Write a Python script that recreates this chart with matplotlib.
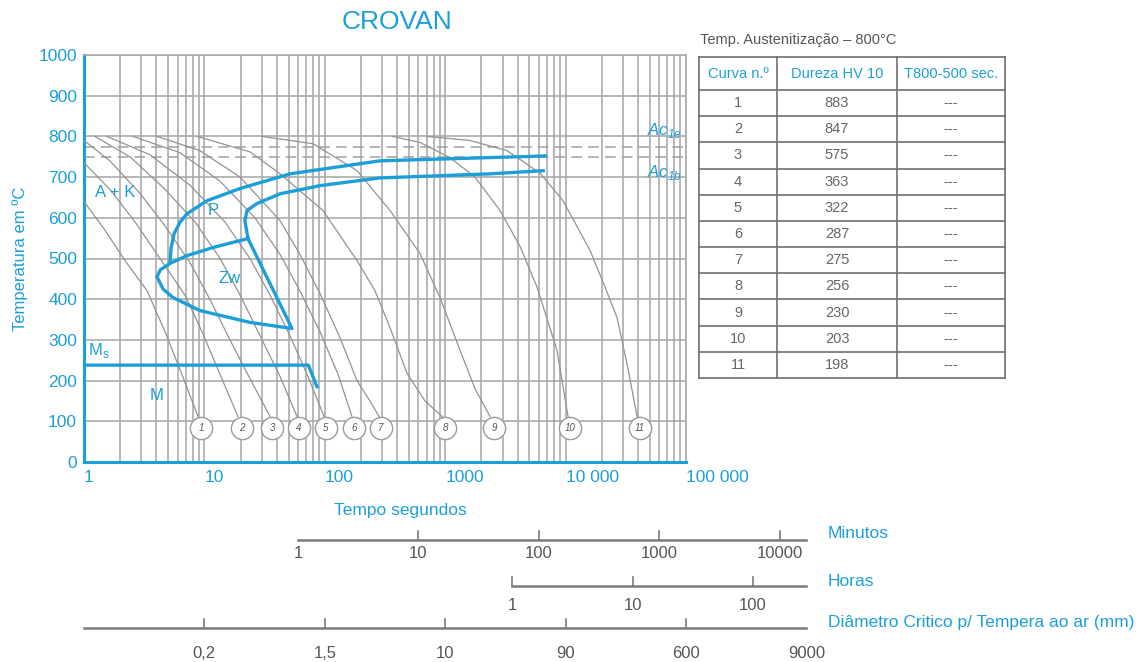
import matplotlib
matplotlib.use("Agg")
import matplotlib.pyplot as plt
import matplotlib.transforms as mtransforms
from matplotlib.ticker import LogLocator, NullFormatter

plt.rcParams['font.family'] = ['Liberation Sans', 'DejaVu Sans']

BLUE = '#1c9fd9'
GRID = '#ababab'
CURVE = '#939393'

# cooling curves: time (s) and temperature (C)
c1_t = [1.0, 1.49, 2.19, 3.34, 4.71, 6.51, 8.85]
c1_T = [640, 570, 495, 421, 320, 215, 112]
c2_t = [1.0, 1.64, 2.65, 4.28, 6.90, 9.73, 13.5, 19.0]
c2_T = [735, 670, 590, 500, 410, 315, 215, 112]
c3_t = [1.0, 1.64, 2.92, 4.71, 7.59, 11.1, 16.3, 23.9, 35.1]
c3_T = [790, 740, 660, 580, 490, 400, 300, 205, 112]
c4_t = [1.23, 2.41, 4.71, 8.35, 13.5, 19.8, 29.0, 42.5, 58.7]
c4_T = [800, 750, 670, 590, 500, 410, 310, 210, 112]
c5_t = [1.55, 3.53, 7.59, 14.8, 23.9, 35.1, 51.4, 72.5, 98.5]
c5_T = [800, 755, 680, 590, 500, 410, 310, 210, 112]
c6_t = [2.55, 6.27, 13.5, 26.3, 42.5, 62.2, 91.2, 129, 168]
c6_T = [800, 760, 690, 600, 510, 420, 320, 215, 112]
c7_t = [4.04, 9.19, 19.8, 42.5, 62.2, 91.2, 134, 185, 237, 282]
c7_T = [800, 765, 700, 593, 510, 414, 305, 200, 150, 112]
c8_t = [8.68, 23.9, 42.5, 96.6, 185, 261, 348, 482, 679, 959]
c8_T = [800, 762, 708, 618, 495, 421, 330, 218, 150, 110]
c9_t = [30.0, 79.8, 185, 348, 618, 905, 1326, 1769, 2355]
c9_T = [800, 782, 716, 618, 512, 404, 275, 180, 112]
c10_t = [368, 618, 1096, 1769, 2851, 4181, 5786, 8472, 10470]
c10_T = [800, 785, 748, 700, 618, 530, 430, 275, 112]
c11_t = [706, 1607, 3261, 6128, 9516, 15950, 21250, 26730, 32960, 39180]
c11_T = [800, 790, 765, 710, 642, 520, 430, 355, 230, 112]

curves_t = [c1_t, c2_t, c3_t, c4_t, c5_t, c6_t, c7_t, c8_t, c9_t, c10_t, c11_t]
curves_T = [c1_T, c2_T, c3_T, c4_T, c5_T, c6_T, c7_T, c8_T, c9_T, c10_T, c11_T]
circle_t = [9.37, 20.5, 36.4, 61.1, 102, 175, 293, 996, 2541, 10880, 41490]
circle_labels = ['1', '2', '3', '4', '5', '6', '7', '8', '9', '10', '11']

# transformation lines (blue)
upper_t = [5.18, 5.28, 5.6, 6.3, 7.17, 10.5, 19.8, 51.4, 287, 2355, 7010]
upper_T = [488, 525, 561, 590, 610, 642, 672, 708, 740, 748, 752]
lower_t = [23.0, 21.7, 22.6, 27.3, 42.5, 91.2, 287, 2355, 6740]
lower_T = [549, 593, 618, 635, 659, 679, 698, 708, 716]
bainite_t = [23.0, 11.8, 7.17, 5.18, 4.3, 4.04, 4.53, 5.49, 9.19, 23.9, 53.4, 23.0]
bainite_T = [549, 527, 507, 488, 472, 455, 425, 404, 372, 343, 328, 549]
ms_t = [1.0, 73.0, 86.1]
ms_T = [238, 238, 185]
ac1e = 775
ac1b = 750

# x tick labels of the seconds axis
sec_ticks = [1, 10, 100, 1000, 10000, 100000]
sec_labels = ['1', '10', '100', '1000', '10 000', '100 000']

# secondary scales under the chart
min_values = [1, 10, 100, 1000, 10000]
hour_values = [1, 10, 100]
diam_pos_s = [10, 100, 1000, 10000, 100000, 1000000]
diam_labels = ['0,2', '1,5', '10', '90', '600', '9000']

# table
curva = ['1', '2', '3', '4', '5', '6', '7', '8', '9', '10', '11']
dureza = [883, 847, 575, 363, 322, 287, 275, 256, 230, 203, 198]
t800_500 = ['---'] * 11


def main():
    W, H = 1138, 662
    fig = plt.figure(figsize=(W / 100, H / 100), dpi=100)

    def fy(py):
        return 1 - py / H

    ax = fig.add_axes([84 / W, fy(462), 602 / W, 407 / H])
    ax.set_xscale('log')

    # grid
    ax.xaxis.set_minor_locator(LogLocator(base=10, subs=range(2, 10)))
    ax.xaxis.set_minor_formatter(NullFormatter())
    ax.grid(True, which='both', axis='x', color=GRID, lw=1.2)
    ax.grid(True, which='major', axis='y', color=GRID, lw=1.2)
    ax.set_axisbelow(True)
    ax.tick_params(which='both', length=0, colors=BLUE, labelsize=12.5)

    # Ac lines
    ax.axhline(ac1e, color='#a0a0a0', lw=1.1, ls=(0, (7, 4)))
    ax.axhline(ac1b, color='#a0a0a0', lw=1.1, ls=(0, (7, 4)))

    # cooling curves
    for t, T in zip(curves_t, curves_T):
        ax.plot(t, T, color=CURVE, lw=0.9, zorder=3)
    for t, lab in zip(circle_t, circle_labels):
        ax.plot([t], [83], marker='o', ms=16, mfc='white', mec='#9a9a9a',
                mew=1.0, zorder=4, clip_on=False)
        ax.text(t, 83, lab, ha='center', va='center', fontsize=7,
                style='italic', color='#555555', zorder=5)

    # transformation zones
    ax.plot(upper_t, upper_T, color=BLUE, lw=2.4, zorder=6, solid_capstyle='butt')
    ax.plot(lower_t, lower_T, color=BLUE, lw=2.4, zorder=6, solid_capstyle='butt')
    ax.plot(bainite_t, bainite_T, color=BLUE, lw=2.4, zorder=6, solid_joinstyle='round')
    ax.plot(ms_t, ms_T, color=BLUE, lw=2.4, zorder=6)

    # zone labels
    ax.text(1.8, 662, 'A + K', color=BLUE, fontsize=12, ha='center', va='center')
    ax.text(11.8, 618, 'P', color=BLUE, fontsize=12, ha='center', va='center')
    ax.text(16.3, 451, 'Zw', color=BLUE, fontsize=12, ha='center', va='center')
    ax.text(1.08, 275, r'M$_\mathregular{s}$', color=BLUE, fontsize=12, ha='left', va='center')
    ax.text(4.04, 164, 'M', color=BLUE, fontsize=12, ha='center', va='center')
    ax.text(47000, 814, r'Ac$_\mathregular{1e}$', color=BLUE, fontsize=12,
            style='italic', ha='left', va='center')
    ax.text(47000, 711, r'Ac$_\mathregular{1b}$', color=BLUE, fontsize=12,
            style='italic', ha='left', va='center')

    # axes
    ax.set_ylim(0, 1000)
    ax.set_yticks(range(0, 1001, 100))
    ax.set_xticks(sec_ticks)
    ax.set_xticklabels(sec_labels)
    shift = mtransforms.ScaledTranslation(-3 / 100, 0, fig.dpi_scale_trans)
    for lbl in ax.get_xticklabels():
        lbl.set_horizontalalignment('left')
        lbl.set_transform(lbl.get_transform() + shift)
    ax.tick_params(axis='x', pad=6)
    ax.tick_params(axis='y', pad=5)
    for side in ['left', 'bottom']:
        ax.spines[side].set_color(BLUE)
        ax.spines[side].set_linewidth(2.2)
    for side in ['top', 'right']:
        ax.spines[side].set_color(GRID)
        ax.spines[side].set_linewidth(1.2)
    ax.set_ylabel('Temperatura em ºC', color=BLUE, fontsize=12)
    ax.yaxis.set_label_coords(-0.093, 0.5)

    fig.text(397 / W, fy(22), 'CROVAN', color=BLUE, fontsize=19, ha='center', va='center')
    fig.text(400 / W, fy(510), 'Tempo segundos', color=BLUE, fontsize=12.5, ha='center', va='center')

    # secondary scales: x in seconds of the main axis, y in figure units
    trans = mtransforms.blended_transform_factory(ax.transData, fig.transFigure)
    tick_h = 9 / H
    gray = '#7a7a7a'
    lab_c = '#555555'

    # minutes
    y = fy(540)
    ax.plot([60, 1e6], [y, y], color=gray, lw=1.8, transform=trans, clip_on=False)
    for m in min_values:
        s = m * 60
        if m > 1:
            ax.plot([s, s], [y, y + tick_h], color=gray, lw=1.2, transform=trans, clip_on=False)
        ax.text(s, fy(554), str(m), transform=trans, ha='center', va='center',
                fontsize=12, color=lab_c)
    fig.text(828 / W, fy(533), 'Minutos', color=BLUE, fontsize=12.5, va='center')

    # hours
    y = fy(586)
    ax.plot([3600, 1e6], [y, y], color=gray, lw=1.8, transform=trans, clip_on=False)
    for h in hour_values:
        s = h * 3600
        ax.plot([s, s], [y, y + tick_h], color=gray, lw=1.2, transform=trans, clip_on=False)
        ax.text(s, fy(605), str(h), transform=trans, ha='center', va='center',
                fontsize=12, color=lab_c)
    fig.text(828 / W, fy(582), 'Horas', color=BLUE, fontsize=12.5, va='center')

    # critical diameter
    y = fy(628)
    ax.plot([1, 1e6], [y, y], color=gray, lw=1.8, transform=trans, clip_on=False)
    for s, lab in zip(diam_pos_s, diam_labels):
        if s < 1e6:
            ax.plot([s, s], [y, y + tick_h], color=gray, lw=1.2, transform=trans, clip_on=False)
        ax.text(s, fy(653), lab, transform=trans, ha='center', va='center',
                fontsize=12, color=lab_c)
    fig.text(828 / W, fy(622), 'Diâmetro Critico p/ Tempera ao ar (mm)', color=BLUE,
             fontsize=12.5, va='center')

    ax.set_xlim(1, 1e5)

    # table on the right
    tab = fig.add_axes([699 / W, fy(378), 306 / W, 321 / H])
    tab.set_xlim(0, 306)
    tab.set_ylim(321, 0)
    tab.axis('off')
    line_c = '#6f6f6f'
    col_x = [0, 78, 198, 306]
    head_h = 33
    row_h = (321 - head_h) / len(curva)
    row_y = [0, head_h] + [head_h + row_h * (i + 1) for i in range(len(curva))]
    for yy in row_y:
        tab.plot([0, 306], [yy, yy], color=line_c, lw=1.2, clip_on=False)
    for xx in col_x:
        tab.plot([xx, xx], [0, 321], color=line_c, lw=1.2, clip_on=False)
    headers = ['Curva n.º', 'Dureza HV 10', 'T800-500 sec.']
    for i, txt in enumerate(headers):
        tab.text((col_x[i] + col_x[i + 1]) / 2, head_h / 2, txt, ha='center', va='center',
                 color=BLUE, fontsize=10.5)
    for r in range(len(curva)):
        yc = head_h + row_h * (r + 0.5)
        vals = [curva[r], str(dureza[r]), t800_500[r]]
        for i, txt in enumerate(vals):
            tab.text((col_x[i] + col_x[i + 1]) / 2, yc, txt, ha='center', va='center',
                     color='#666666', fontsize=10.5)
    fig.text(700 / W, fy(40), 'Temp. Austenitização – 800°C', color=lab_c,
             fontsize=10.5, va='center')

    fig.savefig('out.png', dpi=100)


if __name__ == "__main__":
    main()
